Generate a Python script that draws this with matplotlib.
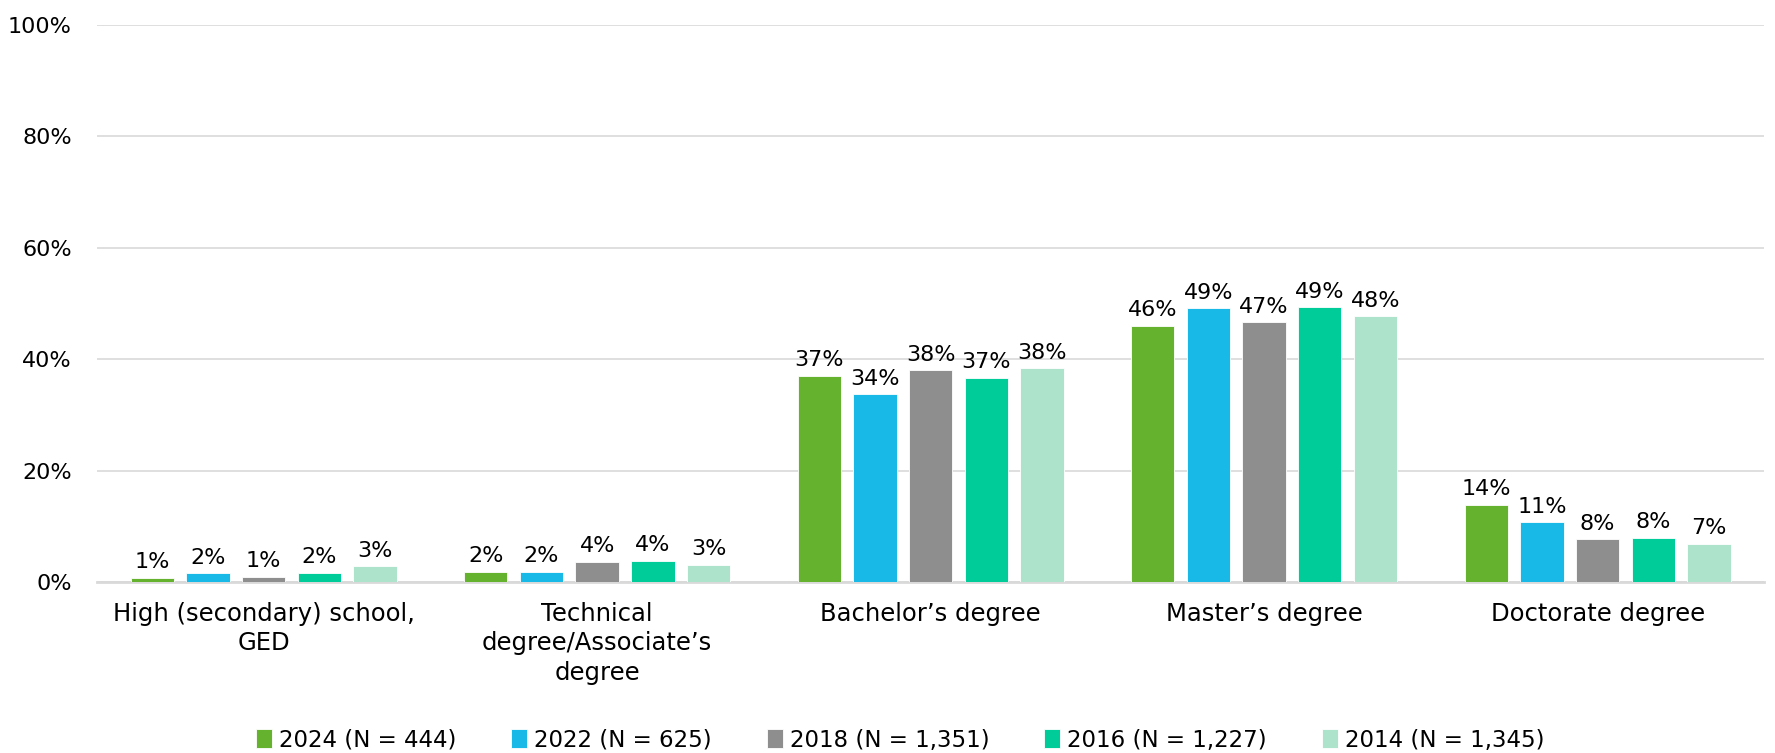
import numpy as np
import matplotlib.pyplot as plt

categories = ["High (secondary) school,\nGED", "Technical\ndegree/Associate’s\ndegree",
              "Bachelor’s degree", "Master’s degree", "Doctorate degree"]
series = ["2024 (N = 444)", "2022 (N = 625)", "2018 (N = 1,351)", "2016 (N = 1,227)", "2014 (N = 1,345)"]
v2024 = [0.8, 1.8, 37.0, 46.0, 13.9]
v2022 = [1.6, 1.8, 33.7, 49.1, 10.7]
v2018 = [0.9, 3.6, 38.0, 46.6, 7.7]
v2016 = [1.7, 3.8, 36.7, 49.3, 7.9]
v2014 = [2.8, 3.1, 38.4, 47.7, 6.9]
colors = ["#64B22E", "#18B9E6", "#8E8E8E", "#00CC99", "#ADE3CB"]

plt.rcParams['font.family'] = ['DejaVu Sans']
fig = plt.figure(figsize=(17.75, 7.53), dpi=100)
ax = fig.add_axes([0.0546, 0.227, 0.9394, 0.740])

x = np.arange(len(categories))
w = 0.13
step = 0.167
allvals = [v2024, v2022, v2018, v2016, v2014]
for i, vals in enumerate(allvals):
    pos = x + (i - 2) * step
    bars = ax.bar(pos, vals, w, color=colors[i], label=series[i], zorder=3,
                  edgecolor="white", linewidth=0.6)
    for b, v in zip(bars, vals):
        ax.annotate(f"{v:.0f}%", (b.get_x() + b.get_width() / 2, v),
                    xytext=(0, 4), textcoords="offset points",
                    ha="center", va="bottom", fontsize=16, color="black")

ax.set_xlim(-0.5, 4.5)
ax.set_ylim(0, 100)
ax.set_yticks(range(0, 101, 20))
ax.set_yticklabels([f"{t}%" for t in range(0, 101, 20)], fontsize=16)
ax.set_xticks(x)
ax.set_xticklabels(categories, fontsize=17.5, linespacing=1.3)
ax.tick_params(axis="both", length=0)
ax.tick_params(axis="y", pad=18)
ax.tick_params(axis="x", pad=14)
ax.grid(axis="y", color="#D9D9D9", linewidth=1.2, zorder=0)
for s in ["top", "right", "left"]:
    ax.spines[s].set_visible(False)
ax.spines["bottom"].set_color("#D9D9D9")
ax.spines["bottom"].set_linewidth(2)

fig.legend(loc="center", bbox_to_anchor=(0.507, 0.017), ncol=5, frameon=False,
           fontsize=16.5, handlelength=0.7, handleheight=0.9, handletextpad=0.3,
           columnspacing=2.4)

plt.savefig("out.png", dpi=100)
